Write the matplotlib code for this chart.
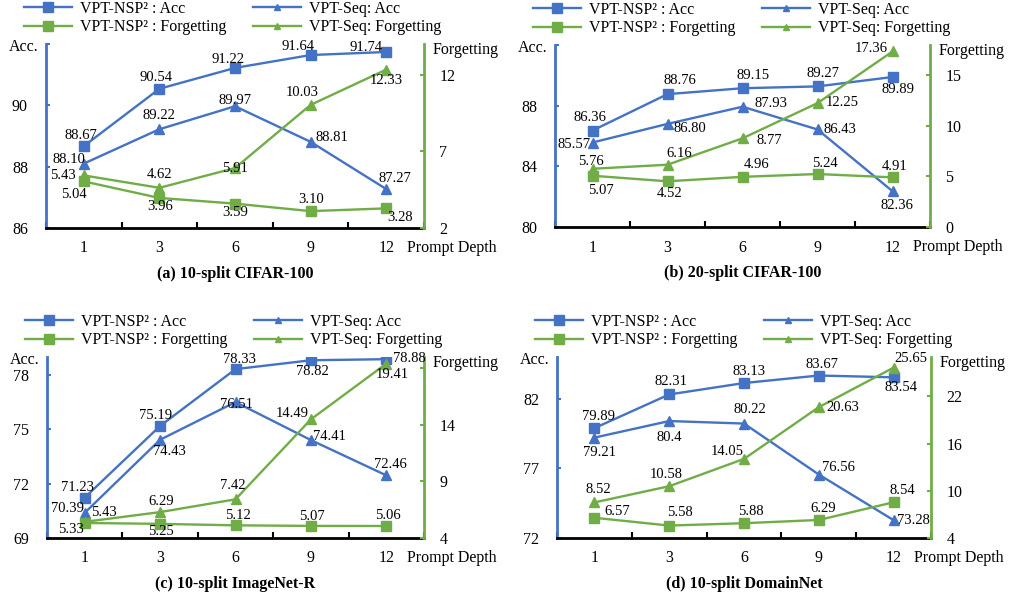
import numpy as np
import matplotlib
matplotlib.use("Agg")
import matplotlib.pyplot as plt
from matplotlib.lines import Line2D

plt.rcParams["font.family"] = ["Liberation Serif", "DejaVu Serif"]

# prompt depths (categorical x axis)
depths = ["1", "3", "6", "9", "12"]

# (a) 10-split CIFAR-100
a_nsp_acc = [88.67, 90.54, 91.22, 91.64, 91.74]
a_seq_acc = [88.10, 89.22, 89.97, 88.81, 87.27]
a_nsp_fgt = [5.04, 3.96, 3.59, 3.10, 3.28]
a_seq_fgt = [5.43, 4.62, 5.91, 10.03, 12.33]

# (b) 20-split CIFAR-100
b_nsp_acc = [86.36, 88.76, 89.15, 89.27, 89.89]
b_seq_acc = [85.57, 86.80, 87.93, 86.43, 82.36]
b_nsp_fgt = [5.07, 4.52, 4.96, 5.24, 4.91]
b_seq_fgt = [5.76, 6.16, 8.77, 12.25, 17.36]

# (c) 10-split ImageNet-R
c_nsp_acc = [71.23, 75.19, 78.33, 78.82, 78.88]
c_seq_acc = [70.39, 74.43, 76.51, 74.41, 72.46]
c_nsp_fgt = [5.33, 5.25, 5.12, 5.07, 5.06]
c_seq_fgt = [5.43, 6.29, 7.42, 14.49, 19.41]

# (d) 10-split DomainNet
d_nsp_acc = [79.89, 82.31, 83.13, 83.67, 83.54]
d_seq_acc = [79.21, 80.4, 80.22, 76.56, 73.28]
d_nsp_fgt = [6.57, 5.58, 5.88, 6.29, 8.54]
d_seq_fgt = [8.52, 10.58, 14.05, 20.63, 25.65]

titles = ["(a) 10-split CIFAR-100", "(b) 20-split CIFAR-100",
          "(c) 10-split ImageNet-R", "(d) 10-split DomainNet"]

BLUE = "#4472C4"
GREEN = "#70AD47"
W, H = 1013, 598

# layout / axis settings per panel (pixel box: left, right, top, bottom)
panels = [
    dict(box=(46, 424, 44, 228), data=(a_nsp_acc, a_seq_acc, a_nsp_fgt, a_seq_fgt),
         ylim=(86, 92), yticks=[86, 88, 90, 92], ylabels=["86", "88", "90", ""],
         y2lim=(2, 14), y2ticks=[2, 7, 12], y2labels=["2", "7", "12"],
         offs=[[(-3, -11), (-3, -11), (-7, -8), (-13, -9), (-20, -4)],
               [(-15, -4), (0, -14), (0, -6), (21, -4), (9, -11)],
               [(-10, 13), (1, 9), (0, 9), (1, -12), (14, 9)],
               [(-21, 0), (0, -13), (0, 0), (-8, -12), (0, 11)]]),
    dict(box=(555, 930, 45, 227), data=(b_nsp_acc, b_seq_acc, b_nsp_fgt, b_seq_fgt),
         ylim=(80, 92), yticks=[80, 84, 88, 92], ylabels=["80", "84", "88", ""],
         y2lim=(0, 18), y2ticks=[0, 5, 10, 15], y2labels=["0", "5", "10", "15"],
         offs=[[(-3, -13), (12, -14), (11, -13), (5, -13), (6, 12)],
               [(-19, 2), (22, 5), (28, -3), (22, 0), (4, 14)],
               [(8, 15), (2, 12), (14, -12), (7, -11), (2, -11)],
               [(-2, -7), (12, -11), (27, 2), (25, -1), (-21, -3)]]),
    dict(box=(47, 424, 357, 538), data=(c_nsp_acc, c_seq_acc, c_nsp_fgt, c_seq_fgt),
         ylim=(69, 79), yticks=[69, 72, 75, 78], ylabels=["69", "72", "75", "78"],
         y2lim=(4, 20), y2ticks=[4, 9, 14, 19], y2labels=["4", "9", "14", ""],
         offs=[[(-7, -10), (-5, -10), (4, -10), (1, 11), (23, -1)],
               [(-17, -4), (9, 12), (1, 2), (19, -4), (4, -11)],
               [(-14, 7), (1, 8), (2, -10), (1, -9), (2, -11)],
               [(19, -9), (1, -11), (-3, -14), (-19, -6), (6, 11)]]),
    dict(box=(557, 931, 357, 538), data=(d_nsp_acc, d_seq_acc, d_nsp_fgt, d_seq_fgt),
         ylim=(72, 85), yticks=[72, 77, 82], ylabels=["72", "77", "82"],
         y2lim=(4, 27), y2ticks=[4, 10, 16, 22], y2labels=["4", "10", "16", "22"],
         offs=[[(4, -12), (2, -13), (5, -12), (3, -11), (7, 10)],
               [(5, 15), (0, 16), (6, -14), (20, -7), (20, 0)],
               [(23, -6), (11, -13), (7, -12), (4, -11), (9, -12)],
               [(4, -13), (-3, -12), (-17, -7), (24, 0), (17, -9)]]),
]

fig = plt.figure(figsize=(W / 100, H / 100), dpi=100)

x = np.arange(len(depths))
for p, title in zip(panels, titles):
    l, r, t, b = p["box"]
    ax = fig.add_axes([l / W, 1 - b / H, (r - l) / W, (b - t) / H])
    ax2 = ax.twinx()
    nsp_acc, seq_acc, nsp_fgt, seq_fgt = p["data"]

    ax.plot(x, nsp_acc, color=BLUE, lw=1.7, marker="s", ms=6.5, zorder=3)
    ax.plot(x, seq_acc, color=BLUE, lw=1.7, marker="^", ms=7, zorder=3)
    ax2.plot(x, nsp_fgt, color=GREEN, lw=1.7, marker="s", ms=6.5, zorder=3)
    ax2.plot(x, seq_fgt, color=GREEN, lw=1.7, marker="^", ms=7, zorder=3)

    ax.set_xlim(-0.5, len(depths) - 0.5)
    ax.set_ylim(*p["ylim"])
    ax2.set_ylim(*p["y2lim"])

    # category boundaries as major ticks, labels on minor ticks
    ax.set_xticks(np.arange(-0.5, len(depths), 1))
    ax.set_xticklabels([])
    ax.set_xticks(x, minor=True)
    ax.set_xticklabels(depths, minor=True)
    ax.tick_params(axis="x", which="major", direction="in", length=4, width=1.5, color="black")
    ax.tick_params(axis="x", which="minor", length=0, pad=9, labelsize=11.5)

    ax.set_yticks(p["yticks"])
    ax.set_yticklabels(p["ylabels"])
    ax.tick_params(axis="y", direction="in", length=3, width=1.5, color=BLUE, pad=13, labelsize=11.5)
    ax2.set_yticks(p["y2ticks"])
    ax2.set_yticklabels(p["y2labels"])
    ax2.tick_params(axis="y", direction="in", length=3, width=1.5, color=GREEN, pad=11, labelsize=11.5)

    for s in ["top", "right"]:
        ax.spines[s].set_visible(False)
    ax.spines["left"].set_color(BLUE)
    ax.spines["left"].set_linewidth(2)
    ax.spines["bottom"].set_color("black")
    ax.spines["bottom"].set_linewidth(2)
    for s in ["top", "left", "bottom"]:
        ax2.spines[s].set_visible(False)
    ax2.spines["right"].set_color(GREEN)
    ax2.spines["right"].set_linewidth(2)

    # data labels, drawn on top axis so they sit above all lines
    for series, trans, offs in zip(p["data"], [ax.transData, ax.transData, ax2.transData, ax2.transData], p["offs"]):
        for xi, v, (dx, dy) in zip(x, series, offs):
            lab = f"{v:.2f}"
            if v == 80.4:
                lab = "80.4"
            ax2.annotate(lab, xy=(xi, v), xycoords=trans, xytext=(dx, -dy),
                         textcoords="offset pixels", ha="center", va="center",
                         fontsize=10.5, zorder=5)

    ax2.annotate("Acc.", xy=(0, 1), xycoords="axes fraction", xytext=(-8, -3),
                 textcoords="offset pixels", ha="right", va="center", fontsize=11.5)
    ax2.annotate("Forgetting", xy=(1, 1), xycoords="axes fraction", xytext=(9, -6),
                 textcoords="offset pixels", ha="left", va="center", fontsize=11.5)
    ax2.annotate("Prompt Depth", xy=(1, 0), xycoords="axes fraction", xytext=(-17, -20),
                 textcoords="offset pixels", ha="left", va="center", fontsize=11.5)
    ax2.annotate(title, xy=(0.5, 0), xycoords="axes fraction", xytext=(0, -46),
                 textcoords="offset pixels", ha="center", va="center", fontsize=11.5,
                 fontweight="bold")

    handles = [
        Line2D([], [], color=BLUE, lw=1.7, marker="s", ms=6.5),
        Line2D([], [], color=GREEN, lw=1.7, marker="s", ms=6.5),
        Line2D([], [], color=BLUE, lw=1.7, marker="^", ms=4),
        Line2D([], [], color=GREEN, lw=1.7, marker="^", ms=4),
    ]
    labels = ["VPT-NSP\u00b2 : Acc", "VPT-NSP\u00b2 : Forgetting",
              "VPT-Seq: Acc", "VPT-Seq: Forgetting"]
    ax2.legend(handles, labels, ncol=2, loc="upper left", frameon=False,
               bbox_to_anchor=((l - 22) / W, 1 - (t - 43) / H), bbox_transform=fig.transFigure,
               borderpad=0, borderaxespad=0, handlelength=3.0, handletextpad=0.5,
               labelspacing=0.15, columnspacing=1.7, fontsize=11.5)

fig.savefig("out.png", dpi=100)
